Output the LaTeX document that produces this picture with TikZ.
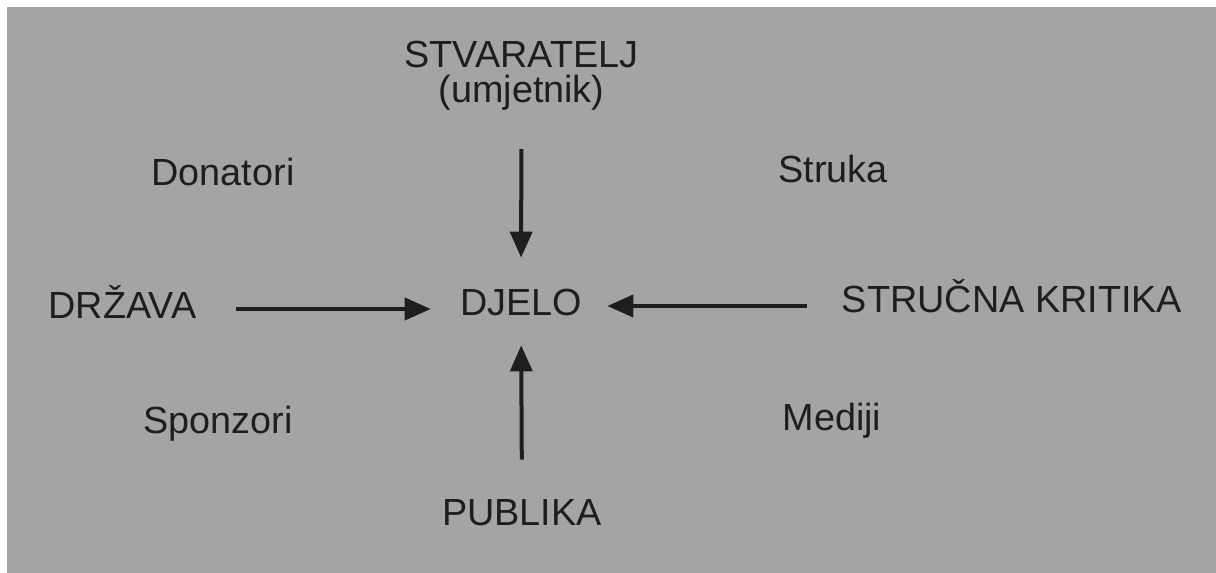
\documentclass[tikz,border=0pt]{standalone}
\usepackage{fontspec}
\setmainfont{Liberation Sans}
\usetikzlibrary{arrows.meta}
\definecolor{papir}{RGB}{164,164,164}
\definecolor{tinta}{RGB}{30,30,30}
\tikzstyle{pojam} = [inner sep=0pt, anchor=base, text=tinta, text height=14pt, text depth=0pt, font=\fontsize{18.9}{22}\selectfont]
\tikzstyle{tok} = [-{Triangle[length=13pt,width=11pt]}, line width=2pt, draw=tinta]

\begin{document}
\begin{tikzpicture}[x=0.5pt,y=-0.5pt]
                    \useasboundingbox (0,0) rectangle (1216,573);
                    \fill[white] (0,0) rectangle (1216,573);
                    \fill[papir] (7,7) rectangle (1216,573);
                    % pojmovi
                    \node[inner sep=0pt, anchor=north, text=tinta, align=center, font=\fontsize{18.9}{17.5}\selectfont] (stvaratelj) at (521.5,41) {STVARATELJ\\(umjetnik)};
                    \node[pojam] (donatori) at (223,185) {Donatori};
                    \node[pojam] (struka) at (833,182) {Struka};
                    \node[pojam] (drzava) at (122.5,318) {DRŽAVA};
                    \node[pojam] (djelo) at (521,315) {DJELO};
                    \node[pojam] (kritika) at (1012,312) {STRUČNA KRITIKA};
                    \node[pojam] (sponzori) at (218,433) {Sponzori};
                    \node[pojam] (mediji) at (832,430) {Mediji};
                    \node[pojam] (publika) at (522,525) {PUBLIKA};
                    % strelice
                    \draw[tok, shorten <=19pt, shorten >=14.5pt] (stvaratelj.south) -- (djelo.north);
                    \draw[tok] ([xshift=19.5pt,yshift=-2.5pt]drzava.east) -- ([xshift=-14.5pt,yshift=-4pt]djelo.west);
                    \draw[tok] ([xshift=-17pt,yshift=-4pt]kritika.west) -- ([xshift=12.5pt,yshift=-2.5pt]djelo.east);
                    \draw[tok, shorten <=18.5pt, shorten >=15pt] (publika.north) -- (djelo.south);
                \end{tikzpicture}
\end{document}
